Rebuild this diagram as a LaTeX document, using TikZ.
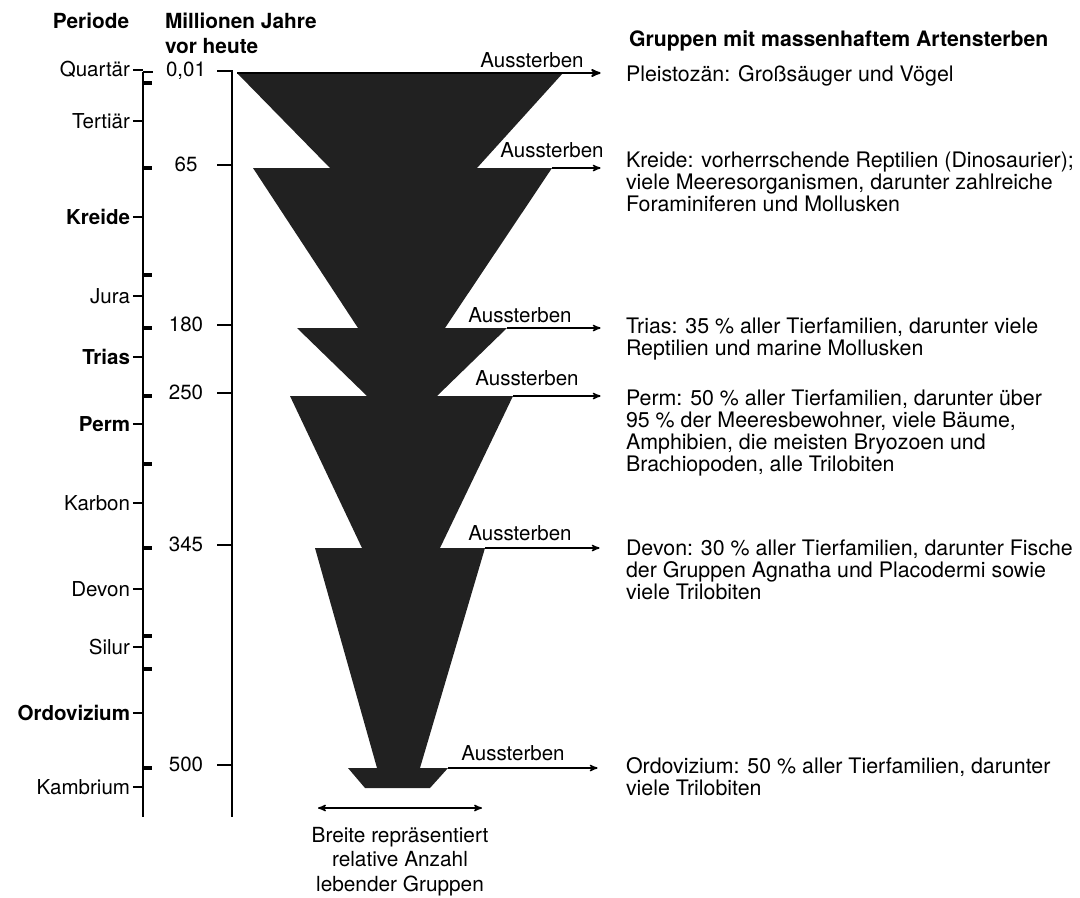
\documentclass[tikz,border=0pt]{standalone}
\usepackage{fontspec}
\setmainfont{TeX Gyre Heros}
\usetikzlibrary{arrows}
\usepackage{xcolor}

\begin{document}
\begin{tikzpicture}[x=0.025cm,y=-0.025cm,>=stealth',
      every node/.style={font=\fontsize{14.6}{15.6}\selectfont,inner sep=0,outer sep=0},
      head node/.style={font=\fontsize{14.8}{17.8}\selectfont\bfseries},
      period node/.style={anchor=mid east},
      age node/.style={anchor=mid},
      event node/.style={anchor=base},
      group node/.style={anchor=north west,align=left,font=\fontsize{15.2}{15.6}\selectfont},
      axis line/.style={line width=1.4pt},
      limit tick/.style={line width=2.4pt},
      group shape/.style={fill=black!87},
      event arrow/.style={->,line width=1pt,shorten >=1pt}]

    \useasboundingbox (0,0) rectangle (1080,897);

    % headings
    \node[head node,anchor=base] (periode) at (91,28) {Periode};
    \node[head node,anchor=north west,align=left] (jahre) at (165,13) {Millionen Jahre\\vor heute};
    \node[head node,font=\fontsize{15.1}{17.8}\selectfont\bfseries,anchor=base west] (gruppen) at (629,46) {Gruppen mit massenhaftem Artensterben};

    % period axis
    \coordinate (pTop) at (143,72);
    \coordinate (pBot) at (143,817);
    \draw[axis line] (pTop) -- (pBot);

    \node[period node] (quartaer) at (130,73) {Quartär};
    \node[period node] (tertiaer) at (130,125) {Tertiär};
    \node[period node,font=\fontsize{14.6}{15.6}\selectfont\bfseries] (kreide) at (130,221) {Kreide};
    \node[period node] (jura) at (130,300) {Jura};
    \node[period node,font=\fontsize{14.6}{15.6}\selectfont\bfseries] (trias) at (130,361) {Trias};
    \node[period node,font=\fontsize{14.6}{15.6}\selectfont\bfseries] (perm) at (130,428) {Perm};
    \node[period node] (karbon) at (130,507) {Karbon};
    \node[period node] (devon) at (130,593) {Devon};
    \node[period node] (silur) at (130,651) {Silur};
    \node[period node,font=\fontsize{14.6}{15.6}\selectfont\bfseries] (ordovizium) at (130,717) {Ordovizium};
    \node[period node] (kambrium) at (130,791) {Kambrium};

    \path[axis line,shorten <=2pt]
    (quartaer) edge (quartaer -| pTop)
    (tertiaer) edge (tertiaer -| pTop)
    (kreide) edge (kreide -| pTop)
    (jura) edge (jura -| pTop)
    (trias) edge (trias -| pTop)
    (perm) edge (perm -| pTop)
    (karbon) edge (karbon -| pTop)
    (devon) edge (devon -| pTop)
    (silur) edge (silur -| pTop)
    (ordovizium) edge (ordovizium -| pTop)
    (kambrium) edge (kambrium -| pTop);

    % period limits
    \draw[line width=1.6pt] (143,72) -- (153,72);
    \draw[limit tick] (143,83) -- (152,83);
    \draw[limit tick] (143,168) -- (152,168);
    \draw[limit tick] (143,275) -- (152,275);
    \draw[limit tick] (143,328) -- (152,328);
    \draw[limit tick] (143,396) -- (152,396);
    \draw[limit tick] (143,464) -- (152,464);
    \draw[limit tick] (143,548) -- (152,548);
    \draw[limit tick] (143,636) -- (152,636);
    \draw[limit tick] (143,669) -- (152,669);
    \draw[limit tick] (143,768) -- (152,768);

    % age axis
    \coordinate (aTop) at (232,70);
    \coordinate (aBot) at (232,817);
    \coordinate (aTick) at (217,70);
    \draw[axis line] (aTop) -- (aBot);

    \node[age node] (age001) at (186,73) {0,01};
    \node[age node] (age065) at (186,168) {65};
    \node[age node] (age180) at (186,328) {180};
    \node[age node] (age250) at (186,396) {250};
    \node[age node] (age345) at (186,548) {345};
    \node[age node] (age500) at (186,768) {500};

    \path[axis line]
    (age001 -| aTick) edge (age001 -| aTop)
    (age065 -| aTick) edge (age065 -| aTop)
    (age180 -| aTick) edge (age180 -| aTop)
    (age250 -| aTick) edge (age250 -| aTop)
    (age345 -| aTick) edge (age345 -| aTop)
    (age500 -| aTick) edge (age500 -| aTop);

    % groups
    \fill[group shape] (237,73) coordinate (top1) -- (563,73) coordinate (right1) -- (477,168) -- (330,168) -- cycle;
    \fill[group shape] (253,168) -- (552,168) coordinate (right2) -- (445,328) -- (358,328) -- cycle;
    \fill[group shape] (297,328) -- (507,328) coordinate (right3) -- (437,396) -- (367,396) -- cycle;
    \fill[group shape] (290,396) -- (513,396) coordinate (right4) -- (440,548) -- (362,548) -- cycle;
    \fill[group shape] (315,548) -- (485,548) coordinate (right5) -- (420,768) -- (377,768) -- cycle;
    \fill[group shape] (348,768) -- (448,768) coordinate (right6) -- (430,788) -- (365,788) -- cycle;

    % extinctions
    \coordinate (end1) at (602,73);
    \coordinate (end2) at (602,168);
    \coordinate (end3) at (602,328);
    \coordinate (end4) at (602,396);
    \coordinate (end5) at (601,548);
    \coordinate (end6) at (599,768);

    \draw[event arrow,line width=1.3pt] (top1) -- (end1);
    \draw[event arrow] (right2) -- (end2);
    \draw[event arrow] (right3) -- (end3);
    \draw[event arrow] (right4) -- (end4);
    \draw[event arrow] (right5) -- (end5);
    \draw[event arrow] (right6) -- (end6);

    \node[event node] (aus1) at (532,67) {Aussterben};
    \node[event node] (aus2) at (552,157) {Aussterben};
    \node[event node] (aus3) at (520,322) {Aussterben};
    \node[event node] (aus4) at (527,385) {Aussterben};
    \node[event node] (aus5) at (520,540) {Aussterben};
    \node[event node] (aus6) at (513,760) {Aussterben};

    \node[group node] (pleistozaen) at (626,66) {Pleistozän: Großsäuger und Vögel};
    \node[group node] (kreideText) at (626,152) {Kreide: vorherrschende Reptilien (Dinosaurier);\\viele Meeresorganismen, darunter zahlreiche\\Foraminiferen und Mollusken};
    \node[group node] (triasText) at (626,318) {Trias: 35 \% aller Tierfamilien, darunter viele\\Reptilien und marine Mollusken};
    \node[group node] (permText) at (626,390) {Perm: 50 \% aller Tierfamilien, darunter über\\95 \% der Meeresbewohner, viele Bäume,\\Amphibien, die meisten Bryozoen und\\Brachiopoden, alle Trilobiten};
    \node[group node] (devonText) at (626,540) {Devon: 30 \% aller Tierfamilien, darunter Fische\\der Gruppen Agnatha und Placodermi sowie\\viele Trilobiten};
    \node[group node] (ordoText) at (626,758) {Ordovizium: 50 \% aller Tierfamilien, darunter\\viele Trilobiten};

    % width key
    \coordinate (wideL) at (318,808);
    \coordinate (wideR) at (482,808);
    \draw[<->,line width=1pt] (wideL) -- (wideR);
    \node[align=center,anchor=north,font=\fontsize{14.8}{17.4}\selectfont] (breite) at (400,827) {Breite repräsentiert\\relative Anzahl\\lebender Gruppen};

  \end{tikzpicture}
\end{document}
